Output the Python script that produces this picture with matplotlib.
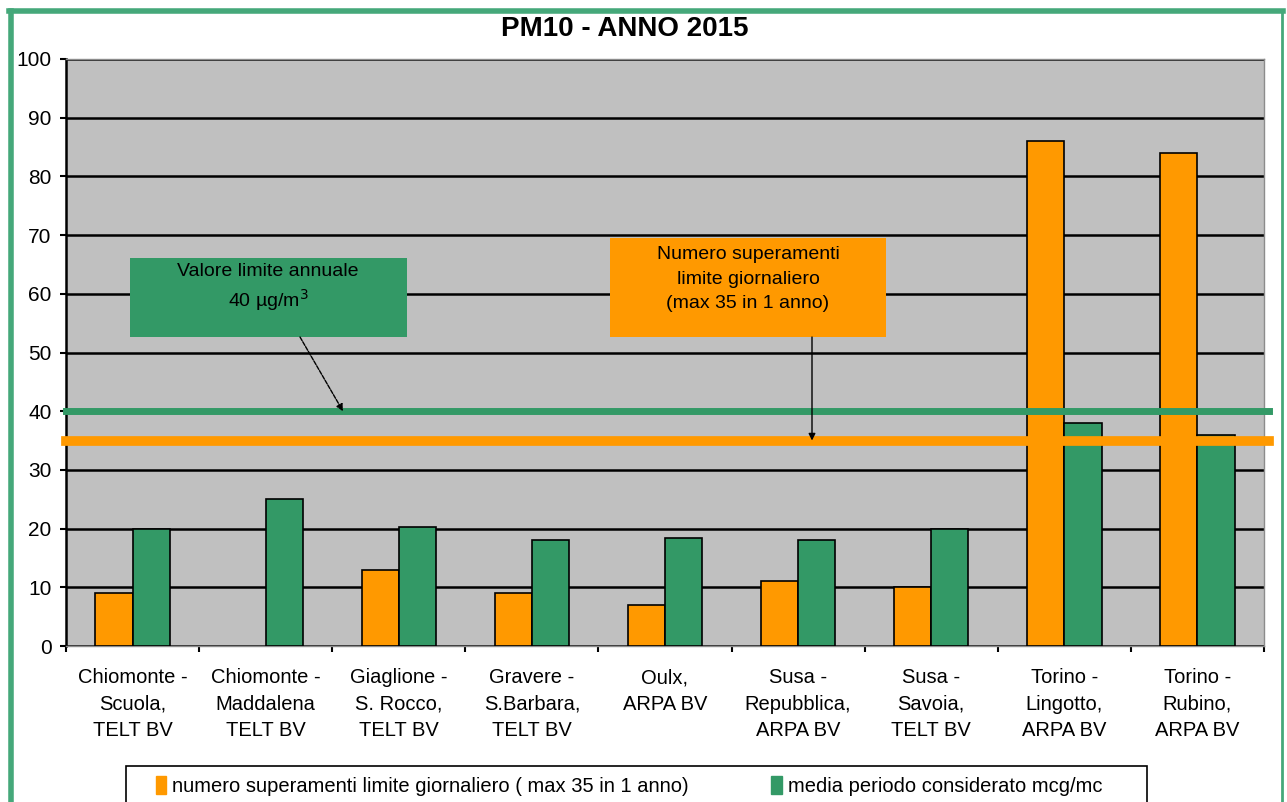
import matplotlib
matplotlib.use('Agg')
import matplotlib.pyplot as plt
import matplotlib.patches as mpatches
from matplotlib.lines import Line2D
import numpy as np

plt.rcParams['font.family'] = ['Liberation Sans', 'DejaVu Sans']

# --- data ---
stations = ['Chiomonte -\nScuola,\nTELT BV', 'Chiomonte -\nMaddalena\nTELT BV',
            'Giaglione -\nS. Rocco,\nTELT BV', 'Gravere -\nS.Barbara,\nTELT BV',
            'Oulx,\nARPA BV', 'Susa -\nRepubblica,\nARPA BV', 'Susa -\nSavoia,\nTELT BV',
            'Torino -\nLingotto,\nARPA BV', 'Torino -\nRubino,\nARPA BV']
superamenti = [9, 0, 13, 9, 7, 11, 10, 86, 84]
media = [20, 25, 20.2, 18, 18.4, 18, 20, 38, 36]
limite_annuale = 40
limite_superamenti = 35

ORANGE = '#FF9900'
GREEN = '#339966'

fig = plt.figure(figsize=(12.87, 8.02), dpi=100, facecolor='white')
ax = fig.add_axes([66/1287, 1 - 646/802, (1264 - 66)/1287, (646 - 59)/802])
ax.set_facecolor('#C0C0C0')

x = np.arange(len(stations))
w = 0.28
ax.bar(x - w/2, superamenti, w, color=ORANGE,
       edgecolor=['black' if v > 0 else 'none' for v in superamenti], linewidth=1.2, zorder=3)
ax.bar(x + w/2, media, w, color=GREEN, edgecolor='black', linewidth=1.2, zorder=3)

ax.axhline(limite_annuale, xmin=0, xmax=1.004, color=GREEN, lw=5, zorder=5, clip_on=False)
ax.axhline(limite_superamenti, xmin=0, xmax=1.004, color=ORANGE, lw=7, zorder=5, clip_on=False)

ax.set_xlim(-0.5, len(stations) - 0.5)
ax.set_ylim(0, 100)
ax.set_yticks(range(0, 101, 10))
ax.yaxis.grid(True, color='black', lw=1.8, zorder=1)
ax.set_axisbelow(True)

ax.set_xticks(x)
ax.set_xticklabels(stations, fontsize=14.5, linespacing=1.5)
ax.tick_params(axis='x', length=0, pad=16)
ax.set_xticks(np.arange(-0.5, len(stations), 1), minor=True)
ax.tick_params(axis='x', which='minor', length=4.5, width=1.5, color='black', direction='out')
ax.tick_params(axis='y', labelsize=15, length=4.5, width=1.5, pad=6)

for s in ['top', 'right', 'bottom']:
    ax.spines[s].set_color('#8C8C8C')
    ax.spines[s].set_linewidth(1)
ax.spines['left'].set_color('black')
ax.spines['left'].set_linewidth(1.8)


# pixel helpers for the callout boxes
def box_x(px):
    return (px - 66) / ((1264 - 66) / 9) - 0.5


def box_y(py):
    return (646 - py) / 5.87


ax.add_patch(mpatches.Rectangle((box_x(130), box_y(337)), box_x(407) - box_x(130),
                                box_y(258) - box_y(337), facecolor=GREEN, edgecolor='none', zorder=6))
ax.add_patch(mpatches.Rectangle((box_x(610), box_y(337)), box_x(886) - box_x(610),
                                box_y(238) - box_y(337), facecolor=ORANGE, edgecolor='none', zorder=6))
ax.text(box_x(268), box_y(288), 'Valore limite annuale\n40 µg/m$^3$', ha='center', va='center',
        fontsize=14, linespacing=1.35, zorder=7)
ax.text(box_x(748), box_y(279), 'Numero superamenti\nlimite giornaliero\n(max 35 in 1 anno)',
        ha='center', va='center', fontsize=14, linespacing=1.55, zorder=7)

ax.annotate('', xy=(box_x(343), limite_annuale), xytext=(box_x(300), box_y(337)),
            arrowprops=dict(arrowstyle='-|>', color='black', lw=1, ls=(0, (3, 1)),
                            mutation_scale=10, shrinkA=0, shrinkB=0), zorder=6)
ax.annotate('', xy=(box_x(812), limite_superamenti), xytext=(box_x(812), box_y(337)),
            arrowprops=dict(arrowstyle='-|>', color='black', lw=1, mutation_scale=10,
                            shrinkA=0, shrinkB=0), zorder=6)

fig.text(625/1287, 1 - 29/802, 'PM10 - ANNO 2015', ha='center', va='center',
         fontsize=20, fontweight='bold')

# legend box
fig.patches.append(mpatches.Rectangle((126/1287, -0.02), (1147 - 126)/1287, 0.02 + (802 - 766)/802,
                                      transform=fig.transFigure, facecolor='white',
                                      edgecolor='black', lw=1.2))
handles = [mpatches.Patch(color=ORANGE, label='numero superamenti limite giornaliero ( max 35 in 1 anno)'),
           mpatches.Patch(color=GREEN, label='media periodo considerato mcg/mc')]
fig.legend(handles=handles, loc='center left', bbox_to_anchor=(138/1287, 1 - 786/802),
           ncol=2, frameon=False, fontsize=14.5, handlelength=0.5, handleheight=1.0,
           handletextpad=0.3, columnspacing=4.1)

# green frame around the figure
fig.add_artist(Line2D([10.5/1287, 10.5/1287], [0, 1 - 10.5/802], color='#45A87A', lw=4,
                      transform=fig.transFigure))
fig.add_artist(Line2D([8.5/1287, 1283/1287], [1 - 10.5/802, 1 - 10.5/802], color='#45A87A', lw=4,
                      transform=fig.transFigure))
fig.add_artist(Line2D([1282/1287, 1282/1287], [0, 1 - 10.5/802], color='#45A87A', lw=2,
                      transform=fig.transFigure))

plt.savefig('out.png', dpi=100, facecolor='white')
